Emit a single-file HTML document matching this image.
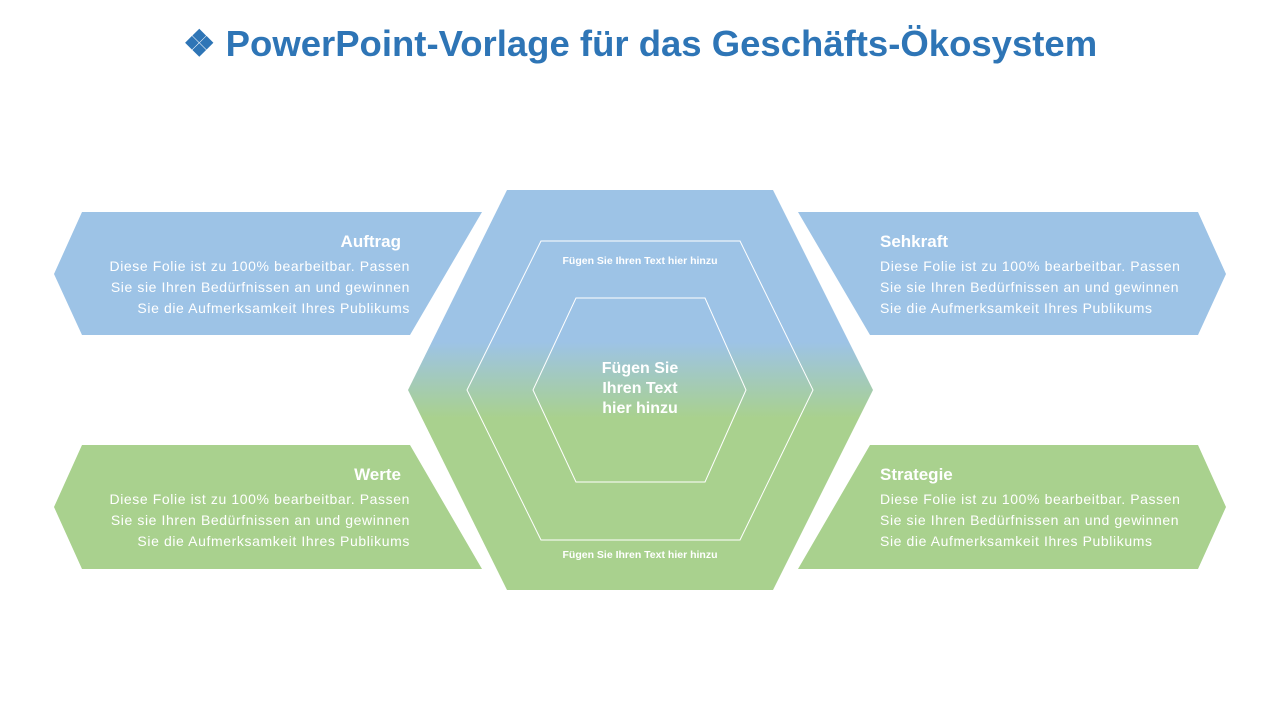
<!DOCTYPE html>
<html><head><meta charset="utf-8"><style>
body{margin:0;width:1280px;height:720px;background:#fff;overflow:hidden;font-family:"Liberation Sans",sans-serif;position:relative}
.t{position:absolute;color:#fff;font-size:14px;line-height:21px;white-space:nowrap;letter-spacing:0.6px}
.h{font-weight:bold;font-size:17px;letter-spacing:0}
</style></head><body>
<div style="position:absolute;top:22px;left:0;width:1280px;text-align:center;color:#2e75b6;font-weight:bold;font-size:36.5px">❖ PowerPoint-Vorlage für das Geschäfts-Ökosystem</div>
<svg width="1280" height="720" style="position:absolute;left:0;top:0">
<defs><linearGradient id="g" x1="0" y1="190" x2="0" y2="590" gradientUnits="userSpaceOnUse">
<stop offset="0.38" stop-color="#9dc3e6"/><stop offset="0.57" stop-color="#a9d18e"/></linearGradient></defs>
<polygon points="82,212 482,212 410,335 82,335 54,274" fill="#9dc3e6"/>
<polygon points="798,212 1198,212 1226,274 1198,335 870,335" fill="#9dc3e6"/>
<polygon points="82,445 410,445 482,569 82,569 54,507" fill="#a9d18e"/>
<polygon points="870,445 1198,445 1226,507 1198,569 798,569" fill="#a9d18e"/>
<polygon points="507,190 773,190 873,390 773,590 507,590 408,390" fill="url(#g)"/>
<polygon points="541,241 740,241 813,390 740,540 541,540 467,390" fill="none" stroke="#fff" stroke-width="1"/>
<polygon points="576,298 705,298 746,390 705,482 576,482 533,390" fill="none" stroke="#fff" stroke-width="1"/>
</svg>
<div class="t h" style="left:100px;width:301px;text-align:right;top:231px">Auftrag</div>
<div class="t" style="left:60px;width:350px;text-align:right;top:256px">Diese Folie ist zu 100% bearbeitbar. Passen<br>Sie sie Ihren Bedürfnissen an und gewinnen<br>Sie die Aufmerksamkeit Ihres Publikums</div>
<div class="t h" style="left:100px;width:301px;text-align:right;top:464px">Werte</div>
<div class="t" style="left:60px;width:350px;text-align:right;top:489px">Diese Folie ist zu 100% bearbeitbar. Passen<br>Sie sie Ihren Bedürfnissen an und gewinnen<br>Sie die Aufmerksamkeit Ihres Publikums</div>
<div class="t h" style="left:880px;top:231px">Sehkraft</div>
<div class="t" style="left:880px;top:256px">Diese Folie ist zu 100% bearbeitbar. Passen<br>Sie sie Ihren Bedürfnissen an und gewinnen<br>Sie die Aufmerksamkeit Ihres Publikums</div>
<div class="t h" style="left:880px;top:464px">Strategie</div>
<div class="t" style="left:880px;top:489px">Diese Folie ist zu 100% bearbeitbar. Passen<br>Sie sie Ihren Bedürfnissen an und gewinnen<br>Sie die Aufmerksamkeit Ihres Publikums</div>
<div class="t" style="left:540px;width:200px;text-align:center;top:251px;font-size:10.5px;font-weight:bold;letter-spacing:0">Fügen Sie Ihren Text hier hinzu</div>
<div class="t" style="left:540px;width:200px;text-align:center;top:545px;font-size:10.5px;font-weight:bold;letter-spacing:0">Fügen Sie Ihren Text hier hinzu</div>
<div class="t" style="left:580px;width:120px;text-align:center;top:359px;font-size:16px;font-weight:bold;line-height:20px;letter-spacing:0">Fügen Sie<br>Ihren Text<br>hier hinzu</div>
</body></html>
